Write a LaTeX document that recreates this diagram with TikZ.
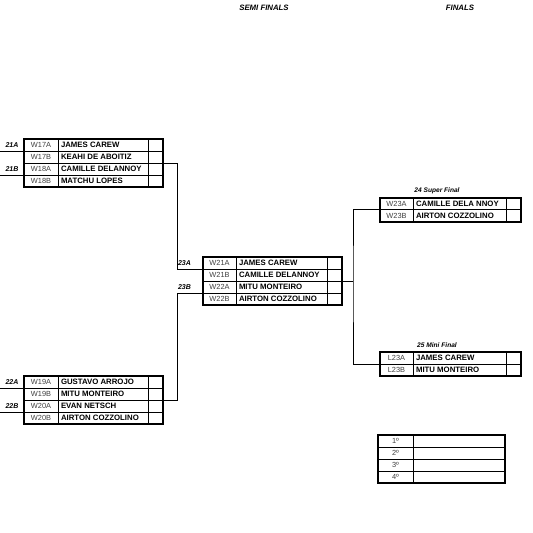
\documentclass[tikz,border=0pt]{standalone}
\usepackage{fontspec}
\setmainfont{Liberation Sans}
\newcommand\matchgrid[6]{% #1 name, #2 x, #3 y, #4 code width, #5 name width, #6 rows
  \pgfmathsetmacro\gw{#4+#5+15}
  \pgfmathsetmacro\gh{12*#6}
  \pgfmathtruncatemacro\gr{#6-1}
  \draw[inner] (#2+#4,#3) -- ++(0,\gh) (#2+#4+#5,#3) -- ++(0,\gh);
  \foreach \k in {1,...,\gr} \draw[inner] (#2,#3+12*\k) -- ++(\gw,0);
  \node[outerbox, minimum width=\gw pt, minimum height=\gh pt] (#1) at (#2,#3) {};
}
\newcommand\entry[6]{% #1 node prefix, #2 box x, #3 row top, #4 code width, #5 code, #6 player
  \node[code] (#1c) at (#2+#4/2, #3+6.3) {#5};
  \node[player] (#1n) at (#2+#4+2.8, #3+6.3) {#6};
}
\begin{document}
\begin{tikzpicture}[x=1pt,y=-1pt,
  outerbox/.style={draw, line width=2pt, inner sep=0pt, outer sep=0pt, anchor=north west},
  inner/.style={line width=1pt},
  conn/.style={line width=1pt},
  code/.style={font=\fontsize{7.4}{8}\selectfont, text=black!75, inner sep=0pt},
  player/.style={font=\fontsize{7.8}{9}\selectfont\bfseries, inner sep=0pt, anchor=west},
  tag/.style={font=\fontsize{7}{8}\selectfont\bfseries\itshape, inner sep=0pt},
  title/.style={font=\fontsize{7.8}{9}\selectfont\bfseries\itshape, inner sep=0pt}]
\useasboundingbox (0,0) rectangle (533,533);

% titles
\node[title] (tsemi) at (264,7.5) {SEMI FINALS};
\node[title] (tfin) at (460,7.5) {FINALS};

% quarter boxes
\matchgrid{qa}{24}{139}{34}{90}{4}
\entry{a1}{24}{139}{34}{W17A}{JAMES CAREW}
\entry{a2}{24}{151}{34}{W17B}{KEAHI DE ABOITIZ}
\entry{a3}{24}{163}{34}{W18A}{CAMILLE DELANNOY}
\entry{a4}{24}{175}{34}{W18B}{MATCHU LOPES}

\matchgrid{qb}{24}{376}{34}{90}{4}
\entry{b1}{24}{376}{34}{W19A}{GUSTAVO ARROJO}
\entry{b2}{24}{388}{34}{W19B}{MITU MONTEIRO}
\entry{b3}{24}{400}{34}{W20A}{EVAN NETSCH}
\entry{b4}{24}{412}{34}{W20B}{AIRTON COZZOLINO}

% tags on the left
\coordinate (t21A) at (0,151);
\coordinate (t21B) at (0,175);
\coordinate (t22A) at (0,388);
\coordinate (t22B) at (0,412);
\draw[conn] (t21A) -- (t21A -| qa.west);
\draw[conn] (t21B) -- (t21B -| qa.west);
\draw[conn] (t22A) -- (t22A -| qb.west);
\draw[conn] (t22B) -- (t22B -| qb.west);
\node[tag] (l21A) at (12,145.5) {21A};
\node[tag] (l21B) at (12,169.5) {21B};
\node[tag] (l22A) at (12,382.5) {22A};
\node[tag] (l22B) at (12,406.5) {22B};

% semi final
\matchgrid{sem}{203}{257}{33}{91}{4}
\entry{s1}{203}{257}{33}{W21A}{JAMES CAREW}
\entry{s2}{203}{269}{33}{W21B}{CAMILLE DELANNOY}
\entry{s3}{203}{281}{33}{W22A}{MITU MONTEIRO}
\entry{s4}{203}{293}{33}{W22B}{AIRTON COZZOLINO}
\coordinate (semA) at (203,269);
\coordinate (semB) at (203,293);
\draw[conn] (qa.east) -| ([xshift=-26pt]semA) -- (semA);
\draw[conn] (qb.east) -| ([xshift=-26pt]semB) -- (semB);
\node[tag] (l23A) at (184.5,263.5) {23A};
\node[tag] (l23B) at (184.5,287.5) {23B};

% finals
\matchgrid{sup}{380}{197.5}{33}{93}{2}
\entry{f1}{380}{197.5}{33}{W23A}{CAMILLE DELA NNOY}
\entry{f2}{380}{209.5}{33}{W23B}{AIRTON COZZOLINO}
\node[tag, font=\fontsize{6.6}{8}\selectfont\bfseries\itshape] (l24) at (437,190.5) {24 Super Final};

\matchgrid{mini}{380}{352}{33}{93}{2}
\entry{m1}{380}{352}{33}{L23A}{JAMES CAREW}
\entry{m2}{380}{364}{33}{L23B}{MITU MONTEIRO}
\node[tag, font=\fontsize{6.6}{8}\selectfont\bfseries\itshape] (l25) at (437,345) {25 Mini Final};

\coordinate (fj) at (353,281);
\draw[conn] (sem.east) -- (fj);
\draw[conn] (sup.west) -| (fj) |- (mini.west);

% standings
\draw[inner] (413,435) -- (413,483);
\foreach \k in {1,2,3} \draw[inner] (378,435+12*\k) -- (505,435+12*\k);
\node[outerbox, minimum width=127pt, minimum height=48pt] (stand) at (378,435) {};
\node[code] (p1) at (395.5,441.3) {1º};
\node[code] (p2) at (395.5,453.3) {2º};
\node[code] (p3) at (395.5,465.3) {3º};
\node[code] (p4) at (395.5,477.3) {4º};
\end{tikzpicture}
\end{document}
